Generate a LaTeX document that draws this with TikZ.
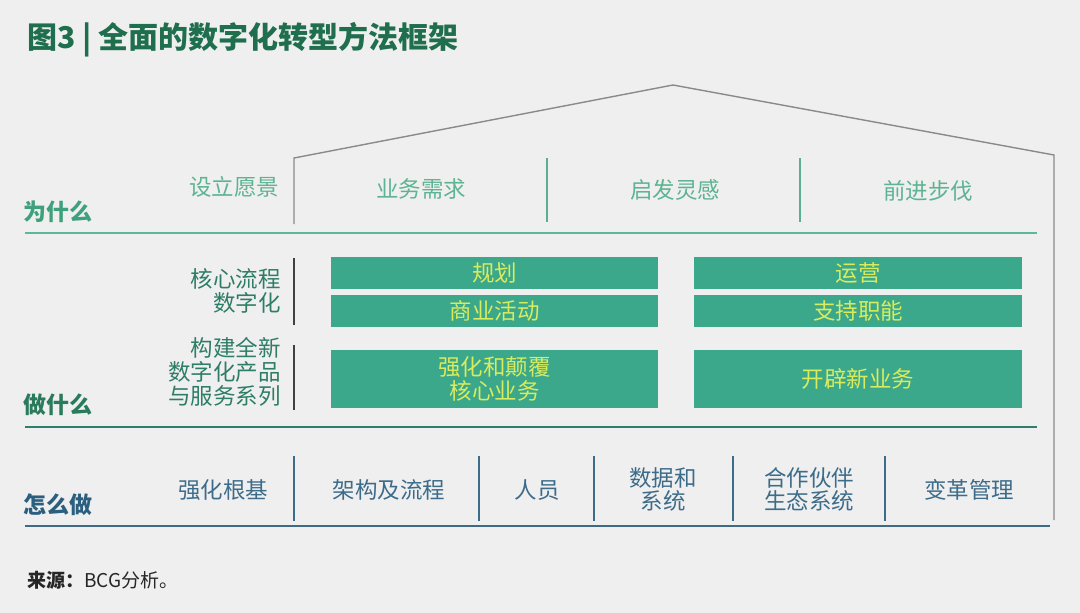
\documentclass[tikz,border=0pt]{standalone}
\usepackage{fontspec}
\setmainfont{Noto Sans CJK SC}
\definecolor{bg}{HTML}{EFEFEF}
\definecolor{titlec}{HTML}{1F6E4E}
\definecolor{lightt}{HTML}{5DB393}
\definecolor{whyc}{HTML}{3FA07E}
\definecolor{midt}{HTML}{2E7D66}
\definecolor{whatc}{HTML}{2A7A5C}
\definecolor{boxc}{HTML}{3BA78B}
\definecolor{boxt}{HTML}{D8EC5C}
\definecolor{howc}{HTML}{2B5F80}
\definecolor{howt}{HTML}{3D6C8A}
\definecolor{roofc}{HTML}{8A8A8A}
\definecolor{sepc}{HTML}{5AAE92}
\definecolor{line1}{HTML}{5BB89B}
\definecolor{line2}{HTML}{2F7F6E}
\definecolor{line3}{HTML}{3E6A86}
\tikzset{
  lbl/.style={inner sep=0pt, font=\fontsize{22.5}{24}\selectfont},
  toplbl/.style={lbl, text=lightt},
  leftlbl/.style={lbl, text=midt, align=right, anchor=east},
  howlbl/.style={lbl, text=howt, align=center, font=\fontsize{22.5}{23}\selectfont},
  tealbox/.style={fill=boxc, draw=none, inner sep=0pt, text=boxt, align=center, font=\fontsize{22.5}{24}\selectfont},
  sec/.style={inner sep=0pt, font=\fontsize{23}{24}\selectfont\bfseries},
}
\begin{document}
\begin{tikzpicture}[x=1pt,y=-1pt]
\fill[bg] (0,0) rectangle (1080,613);
\useasboundingbox (0,0) rectangle (1080,613);
% title
\node[anchor=west, inner sep=0pt, text=titlec, font=\fontsize{30}{32}\selectfont\bfseries] (title) at (27,40) {图3 | 全面的数字化转型方法框架};
% roof
\coordinate (rl) at (294,158);
\coordinate (ap) at (673,85);
\coordinate (rr) at (1054,155);
\coordinate (rlb) at (294,224);
\coordinate (rrb) at (1054,520);
\draw[roofc, line width=1.4pt] (rlb) -- (rl) -- (ap) -- (rr) -- (rrb);
% top row
\draw[sepc, line width=1.2pt] (547,158) -- (547,222) (800,158) -- (800,222);
\node[toplbl] (vision) at (234,187) {设立愿景};
\node[sec, text=whyc] (why) at (58,212) {为什么};
\node[toplbl] (t1) at (421,189) {业务需求};
\node[toplbl] (t2) at (675,190) {启发灵感};
\node[toplbl] (t3) at (928,191) {前进步伐};
\draw[line1, line width=1.6pt] (25,233) -- (1037,233);
% middle
\node[leftlbl] (core) at (281,291) {核心流程\\数字化};
\node[leftlbl] (build) at (281,372) {构建全新\\数字化产品\\与服务系列};
\draw[black!75, line width=1.2pt] (294,258) -- (294,325) (294,345) -- (294,410);
\node[sec, text=whatc] (what) at (58,405) {做什么};
\node[tealbox, minimum width=327pt, minimum height=32pt, anchor=north west] (b1) at (331,257) {规划};
\node[tealbox, minimum width=327pt, minimum height=32pt, anchor=north west] (b2) at (331,295) {商业活动};
\node[tealbox, minimum width=327pt, minimum height=58pt, anchor=north west] (b3) at (331,350) {强化和颠覆\\核心业务};
\node[tealbox, minimum width=328pt, minimum height=32pt, anchor=north west] (b4) at (694,257) {运营};
\node[tealbox, minimum width=328pt, minimum height=32pt, anchor=north west] (b5) at (694,295) {支持职能};
\node[tealbox, minimum width=328pt, minimum height=58pt, anchor=north west] (b6) at (694,350) {开辟新业务};
\draw[line2, line width=1.6pt] (25,427) -- (1037,427);
% bottom
\draw[howt, line width=1.4pt] (294,456) -- (294,521) (479,456) -- (479,521) (594,456) -- (594,521) (733,456) -- (733,521) (885,456) -- (885,521);
\node[sec, text=howc] (how) at (58,505) {怎么做};
\node[howlbl] (h1) at (223,490) {强化根基};
\node[howlbl] (h2) at (389,490) {架构及流程};
\node[howlbl] (h3) at (537,490) {人员};
\node[howlbl] (h4) at (663,489) {数据和\\系统};
\node[howlbl] (h5) at (809,489) {合作伙伴\\生态系统};
\node[howlbl] (h6) at (969,490) {变革管理};
\draw[line3, line width=1.8pt] (25,526) -- (1050,526);
% source
\node[anchor=west, inner sep=0pt, font=\fontsize{19}{21}\selectfont, text=black!85] (src) at (27,580) {\textbf{来源：}BCG分析。};
\end{tikzpicture}
\end{document}
